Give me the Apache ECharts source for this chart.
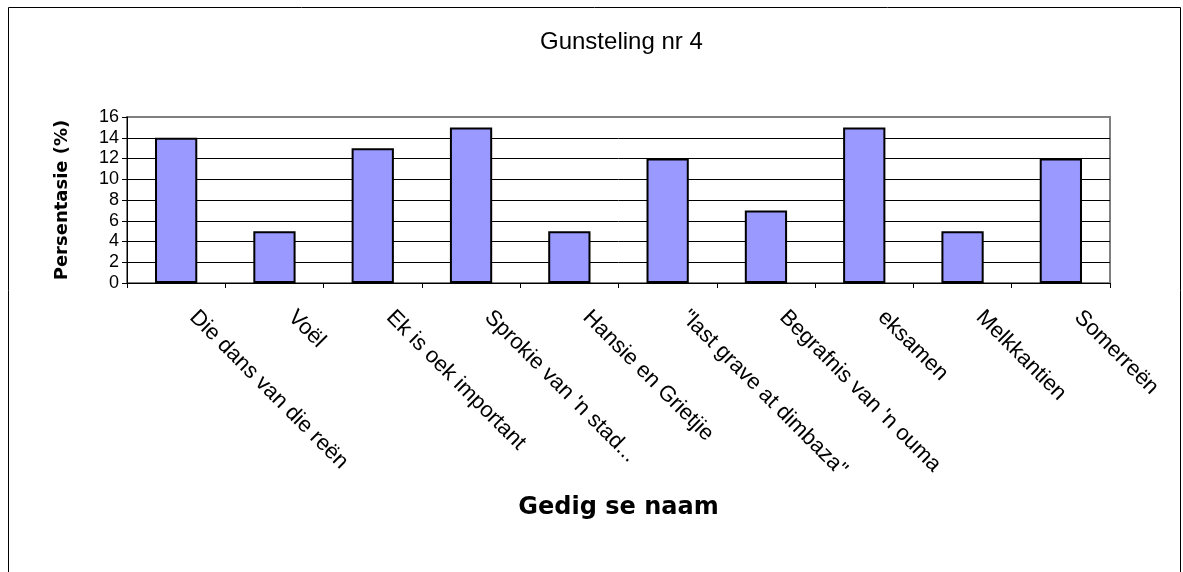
<!DOCTYPE html>
<html>
<head>
<meta charset="utf-8">
<title>Gunsteling nr 4</title>
<script src="https://cdn.jsdelivr.net/npm/echarts@6/dist/echarts.min.js"></script>
<style>
  html, body { margin: 0; padding: 0; background: #fff; }
  #chart { width: 1183px; height: 572px; }
</style>
</head>
<body>
<div id="chart"></div>
<script>
// gedigte (categories) and percentages
var poems = [
  'Die dans van die reën',
  'Voël',
  'Ek is oek important',
  "Sprokie van 'n stad...",
  'Hansie en Grietjie',
  '"last grave at dimbaza"',
  "Begrafnis van 'n ouma",
  'eksamen',
  'Melkkantien',
  'Somerreën'
]
var percentages = [14, 5, 13, 15, 5, 12, 7, 15, 5, 12]
var yTicks = [0, 16, 2] // min, max, interval

var chart = echarts.init(document.getElementById('chart'))
var font = 'Arial, "Liberation Sans", sans-serif'
var boldFont = '"DejaVu Sans", Arial, sans-serif'

chart.setOption({
  animation: false,
  textStyle: { fontFamily: font },
  title: {
    text: 'Gunsteling nr 4',
    left: 535,
    top: 25,
    textStyle: { fontSize: 24, fontWeight: 'normal', color: '#000', fontFamily: font }
  },
  graphic: [
    {
      type: 'rect',
      shape: { x: 8.5, y: 7.5, width: 1172, height: 600 },
      style: { fill: 'none', stroke: '#000', lineWidth: 1 },
      silent: true
    }
  ],
  grid: {
    left: 127,
    right: 73,
    top: 117,
    bottom: 289,
    show: true,
    borderColor: '#808080',
    borderWidth: 2,
    backgroundColor: '#fff'
  },
  xAxis: {
    type: 'category',
    data: poems,
    name: 'Gedig se naam',
    nameLocation: 'middle',
    nameGap: 213,
    nameTextStyle: { fontSize: 24, fontWeight: 'bold', color: '#000', fontFamily: boldFont },
    axisLine: { lineStyle: { color: '#000', width: 1 } },
    axisTick: { show: true, length: 5, lineStyle: { color: '#000' } },
    axisLabel: {
      rotate: -45,
      interval: 0,
      margin: 14,
      padding: [0, 0, 0, 24],
      fontSize: 22,
      color: '#000',
      fontFamily: font
    }
  },
  yAxis: {
    type: 'value',
    min: yTicks[0],
    max: yTicks[1],
    interval: yTicks[2],
    name: 'Persentasie (%)',
    nameLocation: 'middle',
    nameRotate: 90,
    nameGap: 56,
    nameTextStyle: { fontSize: 18, fontWeight: 'bold', color: '#000', fontFamily: boldFont },
    axisLine: { show: true, lineStyle: { color: '#000', width: 1 } },
    axisTick: { show: true, length: 5, lineStyle: { color: '#000' } },
    axisLabel: { fontSize: 18, color: '#000', margin: 8, fontFamily: font },
    splitLine: { showMaxLine: false, lineStyle: { color: '#000', width: 1 } }
  },
  series: [
    {
      type: 'bar',
      data: percentages,
      barWidth: '43%',
      itemStyle: { color: '#9999FF', borderColor: '#000', borderWidth: 2 }
    }
  ]
})
</script>
</body>
</html>
